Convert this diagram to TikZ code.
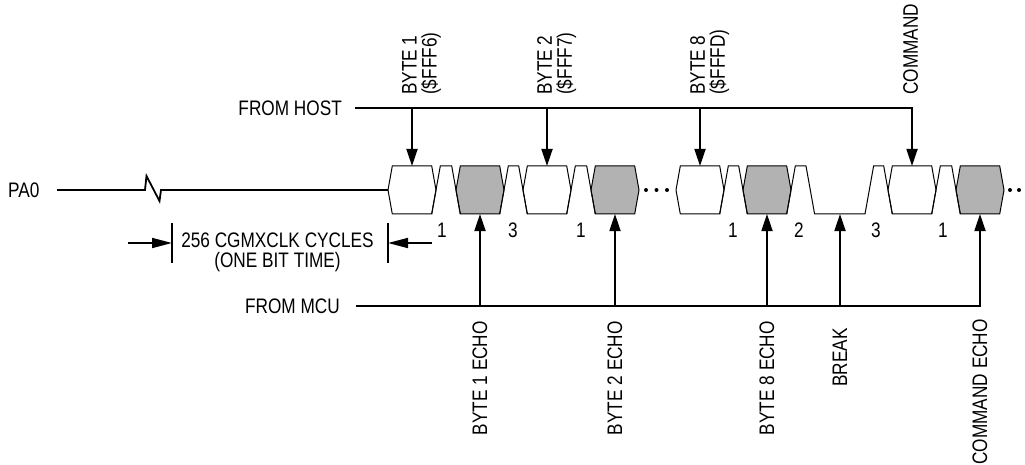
\documentclass[tikz,border=0pt]{standalone}
\usepackage{fontspec}
\setmainfont[FakeStretch=0.82]{Liberation Sans}
\usetikzlibrary{arrows.meta}

\begin{document}
\begin{tikzpicture}[x=1pt,y=-1pt,>={Triangle[length=17pt,width=11pt]},font=\fontsize{21}{20}\selectfont]
\tikzstyle{bus}=[line width=1.8pt]
\tikzstyle{wave}=[line width=1pt, line join=miter]
\tikzstyle{lbl}=[inner sep=0pt]
\tikzstyle{vlbl}=[inner sep=0pt, rotate=90, align=left]
\tikzstyle{dim}=[line width=1.6pt, -{Triangle[length=20pt,width=10pt]}]
\colorlet{echogray}{black!30}
\useasboundingbox (0,0) rectangle (1025,465);

% signal names
\node[lbl, anchor=west] (pa) at (8,190) {PA0};
\node[lbl, anchor=east] (host) at (342,108) {FROM HOST};
\node[lbl, anchor=east] (mcu) at (340,306) {FROM MCU};

% byte slots on PA0
\foreach \nm/\x/\f in {w1/388/white, g1/456/echogray, w2/523/white, g2/591/echogray,
                       w8/676/white, g8/743/echogray, wc/888/white, gc/956/echogray} {
  \draw[wave, fill=\f] (\x,190) -- (\x+4.3,166) -- (\x+43.7,166) -- (\x+48,190)
        -- (\x+43.7,214) -- (\x+4.3,214) -- cycle;
  \coordinate (\nm-l) at (\x,190);
  \coordinate (\nm-t) at (\x+24,166);
  \coordinate (\nm-b) at (\x+24,214);
}

% stop bits between slots
\foreach \r/\l in {436/456, 504/523, 571/591, 724/743, 936/956}
  \draw[wave] (\r-4.3,214) -- (\r+4.3,166) -- (\l-4.3,166) -- (\l+4.3,214);

% break
\draw[wave] (786.7,214) -- (795.3,166) -- (806,166) -- (814.6,214) -- (865,214)
      -- (873.6,166) -- (883.7,166) -- (892.3,214);
\coordinate (brk) at (840,214);

% idle line with cut
\draw[bus] (57,190) -- (145,190) -- (146.5,176) -- (159.5,201) -- (161,190) -- (w1-l);

% dots
\foreach \x in {646,656.5,667,1010,1019}
  \fill (\x,190) circle (2);

% bit time
\coordinate (bitL) at (172,243);
\coordinate (bitR) at (388,243);
\coordinate (dimA) at (128,243);
\coordinate (dimB) at (432,243);
\draw[bus] (172,223) -- (172,263);
\draw[bus] (388,223) -- (388,263);
\draw[dim] (dimA) -- (bitL);
\draw[dim] (dimB) -- (bitR);
\node[lbl, align=center] (bit) at (277.5,252) {256 CGMXCLK CYCLES\\(ONE BIT TIME)};

% bit counts
\foreach \x/\d in {442/1, 513/3, 581/1, 733/1, 799/2, 876/3, 943/1}
  \node[lbl] (n\x) at (\x,230) {\d};

% host side
\coordinate (h1) at (412,108);
\coordinate (h2) at (547,108);
\coordinate (h8) at (700,108);
\draw[bus,->] ([xshift=13]host.east) -| (wc-t);
\draw[bus,->] (h1) -- (w1-t);
\draw[bus,->] (h2) -- (w2-t);
\draw[bus,->] (h8) -- (w8-t);
\node[vlbl, anchor=north west] (t1) at (402,95) {BYTE 1\\(\$FFF6)};
\node[vlbl, anchor=north west] (t2) at (537,95) {BYTE 2\\(\$FFF7)};
\node[vlbl, anchor=north west] (t8) at (690,95) {BYTE 8\\(\$FFFD)};
\node[vlbl, anchor=north west] (tc) at (903,95) {COMMAND};

% mcu side
\coordinate (m1) at (480,306);
\coordinate (m2) at (615,306);
\coordinate (m8) at (767,306);
\coordinate (mb) at (840,306);
\draw[bus,->] ([xshift=16]mcu.east) -| (gc-b);
\draw[bus,->] (m1) -- (g1-b);
\draw[bus,->] (m2) -- (g2-b);
\draw[bus,->] (m8) -- (g8-b);
\draw[bus,->] (mb) -- (brk);
\node[vlbl, anchor=east] (e1) at (480,321) {BYTE 1 ECHO};
\node[vlbl, anchor=east] (e2) at (615,321) {BYTE 2 ECHO};
\node[vlbl, anchor=east] (e8) at (767,321) {BYTE 8 ECHO};
\node[vlbl, anchor=east] (eb) at (840,328) {BREAK};
\node[vlbl, anchor=east] (ec) at (980,319) {COMMAND ECHO};

\end{tikzpicture}
\end{document}
